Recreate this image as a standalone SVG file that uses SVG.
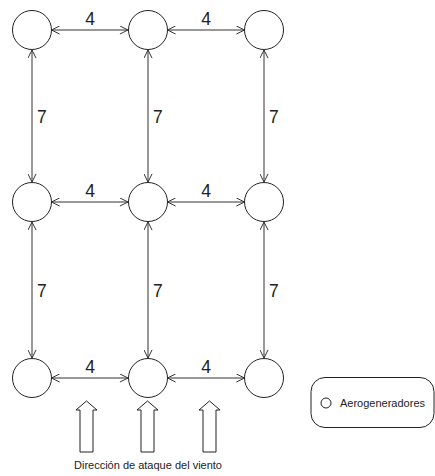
<svg xmlns="http://www.w3.org/2000/svg" width="435" height="476" viewBox="0 0 435 476">
<style>
.n{fill:#fff;stroke:#222;stroke-width:1}
.c{stroke:#333;stroke-width:1;fill:none}
.l{font-family:"Liberation Sans",Arial,sans-serif;font-size:17.5px;fill:#222}
.w{fill:#fff;stroke:#222;stroke-width:1}
.t{font-family:"Liberation Sans",Arial,sans-serif;fill:#222}
</style>
<defs>
<marker id="a" viewBox="0 0 10 10" refX="10" refY="5" markerWidth="9" markerHeight="9" markerUnits="userSpaceOnUse" orient="auto-start-reverse">
<path d="M1,0.5 L10,5 L1,9.5" fill="none" stroke="#333" stroke-width="1.1"/>
</marker>
</defs>
<rect width="435" height="476" fill="#fff"/>
<g id="connectors">
<g class="c" marker-start="url(#a)" marker-end="url(#a)">
<line x1="51.5" y1="30" x2="128" y2="30"/>
<line x1="167.5" y1="30" x2="244.5" y2="30"/>
<line x1="51.5" y1="202" x2="128" y2="202"/>
<line x1="167.5" y1="202" x2="244.5" y2="202"/>
<line x1="51.5" y1="378" x2="128" y2="378"/>
<line x1="167.5" y1="378" x2="244.5" y2="378"/>
<line x1="32" y1="50" x2="32" y2="182"/>
<line x1="148" y1="50" x2="148" y2="182"/>
<line x1="264" y1="50" x2="264" y2="182"/>
<line x1="32" y1="222" x2="32" y2="358"/>
<line x1="148" y1="222" x2="148" y2="358"/>
<line x1="264" y1="222" x2="264" y2="358"/>
</g>
<text class="l" x="90" y="25" text-anchor="middle">4</text>
<text class="l" x="206" y="25" text-anchor="middle">4</text>
<text class="l" x="90" y="197" text-anchor="middle">4</text>
<text class="l" x="206" y="197" text-anchor="middle">4</text>
<text class="l" x="90" y="373" text-anchor="middle">4</text>
<text class="l" x="206" y="373" text-anchor="middle">4</text>
<text class="l" x="37" y="123">7</text>
<text class="l" x="153" y="123">7</text>
<text class="l" x="269" y="123">7</text>
<text class="l" x="37" y="297">7</text>
<text class="l" x="153" y="297">7</text>
<text class="l" x="269" y="297">7</text>
</g>
<g id="n11"><circle class="n" cx="32" cy="30" r="19.5"/></g>
<g id="n12"><circle class="n" cx="148" cy="30" r="19.5"/></g>
<g id="n13"><circle class="n" cx="264" cy="30" r="19.5"/></g>
<g id="n21"><circle class="n" cx="32" cy="202" r="19.5"/></g>
<g id="n22"><circle class="n" cx="148" cy="202" r="19.5"/></g>
<g id="n23"><circle class="n" cx="264" cy="202" r="19.5"/></g>
<g id="n31"><circle class="n" cx="32" cy="378" r="19.5"/></g>
<g id="n32"><circle class="n" cx="148" cy="378" r="19.5"/></g>
<g id="n33"><circle class="n" cx="264" cy="378" r="19.5"/></g>
<g id="wind">
<path class="w" d="M86.5,401 L97,410 L93,410 L93,452 L80,452 L80,410 L76,410 Z"/>
<path class="w" d="M147.5,401 L158,410 L154,410 L154,452 L141,452 L141,410 L137,410 Z"/>
<path class="w" d="M209.5,401 L220,410 L216,410 L216,452 L203,452 L203,410 L199,410 Z"/>
<text class="t" x="148" y="469" font-size="11" text-anchor="middle">Dirección de ataque del viento</text>
</g>
<g id="legend">
<rect x="311" y="377.5" width="123" height="50" rx="14" ry="14" fill="#fff" stroke="#222" stroke-width="1"/>
<circle cx="326" cy="403" r="5" fill="#fff" stroke="#222" stroke-width="1"/>
<text class="t" x="340" y="407" font-size="11">Aerogeneradores</text>
</g>
</svg>
